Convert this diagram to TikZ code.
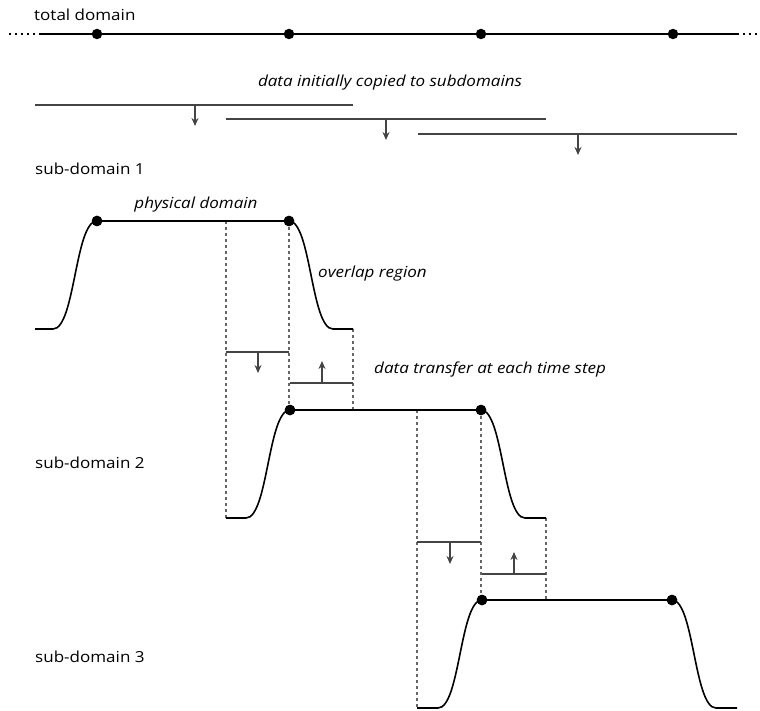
\documentclass[tikz,border=0pt]{standalone}
\usepackage{fontspec}
\setmainfont{Open Sans}[FakeStretch=1.12]
\usetikzlibrary{arrows.meta}
\definecolor{lg}{HTML}{444444}
\definecolor{dg}{HTML}{666666}
\begin{document}
\begin{tikzpicture}[x=1pt,y=-1pt,
  dot/.style={circle,fill=black,inner sep=0pt,minimum size=10.5pt},
  curve/.style={line width=1.6pt,black},
  graybar/.style={line width=1.3pt,lg},
  guide/.style={line width=1.1pt,dg,dash pattern=on 3pt off 3pt},
  darrow/.style={line width=1.3pt,lg,-{Stealth[length=8pt,width=7pt]}},
  lbl/.style={anchor=base west,inner sep=0pt,font=\fontsize{15.2}{18}\selectfont},
  ilbl/.style={inner sep=0pt,font=\fontsize{15.2}{18}\selectfont\itshape}]
\useasboundingbox (0,0) rectangle (760,711);
% total domain
\node[lbl] (tot) at (34,21) {total domain};
\coordinate (t0) at (9,34);
\coordinate (t1) at (40,34);
\coordinate (t2) at (737,34);
\coordinate (t3) at (760,34);
\draw[line width=1.4pt,dash pattern=on 2pt off 4pt] (t0) -- (t1);
\draw[line width=1.4pt,dash pattern=on 2pt off 4pt] (t2) -- (t3);
\draw[curve] (t1) -- (t2);
\node[dot] (td1) at (97,34) {};
\node[dot] (td2) at (289,34) {};
\node[dot] (td3) at (481,34) {};
\node[dot] (td4) at (673,34) {};
% initial copy
\node[ilbl,anchor=base] (copy) at (390,87) {data initially copied to subdomains};
\coordinate (c1a) at (35,105); \coordinate (c1b) at (353,105);
\coordinate (c1m) at (195,105); \coordinate (c1e) at (195,126);
\coordinate (c2a) at (226,119); \coordinate (c2b) at (546,119);
\coordinate (c2m) at (386,119); \coordinate (c2e) at (386,140);
\coordinate (c3a) at (418,134); \coordinate (c3b) at (737,134);
\coordinate (c3m) at (578,134); \coordinate (c3e) at (578,155);
\draw[graybar] (c1a) -- (c1b);
\draw[graybar] (c2a) -- (c2b);
\draw[graybar] (c3a) -- (c3b);
\draw[darrow] (c1m) -- (c1e);
\draw[darrow] (c2m) -- (c2e);
\draw[darrow] (c3m) -- (c3e);
% labels
\node[lbl] (s1) at (35,175) {sub-domain 1};
\node[lbl] (s2) at (35,468) {sub-domain 2};
\node[lbl] (s3) at (35,662) {sub-domain 3};
\node[ilbl,anchor=base] (phys) at (196,209) {physical domain};
\node[ilbl,anchor=base west] (ovl) at (318,277) {overlap region};
\node[ilbl,anchor=base west] (xfer) at (374,373) {data transfer at each time step};
% guides (dashed)
\draw[guide] (226,221) -- (226,518);
\draw[guide] (289,221) -- (289,410);
\draw[guide] (353,329) -- (353,410);
\draw[guide] (417,410) -- (417,708);
\draw[guide] (481,410) -- (481,600);
\draw[guide] (546,518) -- (546,600);
% transfer bars
\coordinate (x1a) at (226,352); \coordinate (x1b) at (289,352);
\coordinate (x1m) at (258,352); \coordinate (x1e) at (258,373);
\coordinate (x2a) at (290,383); \coordinate (x2b) at (353,383);
\coordinate (x2m) at (322,383); \coordinate (x2e) at (322,361);
\coordinate (x3a) at (417,542); \coordinate (x3b) at (481,542);
\coordinate (x3m) at (450,542); \coordinate (x3e) at (450,564);
\coordinate (x4a) at (482,574); \coordinate (x4b) at (546,574);
\coordinate (x4m) at (514,574); \coordinate (x4e) at (514,552);
\draw[graybar] (x1a) -- (x1b);
\draw[graybar] (x2a) -- (x2b);
\draw[graybar] (x3a) -- (x3b);
\draw[graybar] (x4a) -- (x4b);
\draw[darrow] (x1m) -- (x1e);
\draw[darrow] (x2m) -- (x2e);
\draw[darrow] (x3m) -- (x3e);
\draw[darrow] (x4m) -- (x4e);
% sub-domain profiles
% sub-domain 1
\node[dot] (p1a) at (97,221) {};
\node[dot] (p1b) at (289,221) {};
\draw[curve] (35,329) -- (53,329) .. controls (75,329) and (75,221) .. (p1a.center) -- (p1b.center)
  .. controls (311,221) and (311,329) .. (333,329) -- (353,329);
% sub-domain 2
\node[dot] (p2a) at (290,410) {};
\node[dot] (p2b) at (481,410) {};
\draw[curve] (226,518) -- (246,518) .. controls (268,518) and (268,410) .. (p2a.center) -- (p2b.center)
  .. controls (503,410) and (503,518) .. (525,518) -- (546,518);
% sub-domain 3
\node[dot] (p3a) at (482,600) {};
\node[dot] (p3b) at (672,600) {};
\draw[curve] (417,708) -- (438,708) .. controls (460,708) and (460,600) .. (p3a.center) -- (p3b.center)
  .. controls (694,600) and (694,708) .. (716,708) -- (737,708);
\node[dot] at (p1a) {};
\node[dot] at (p1b) {};
\node[dot] at (p2a) {};
\node[dot] at (p2b) {};
\node[dot] at (p3a) {};
\node[dot] at (p3b) {};
\end{tikzpicture}
\end{document}
